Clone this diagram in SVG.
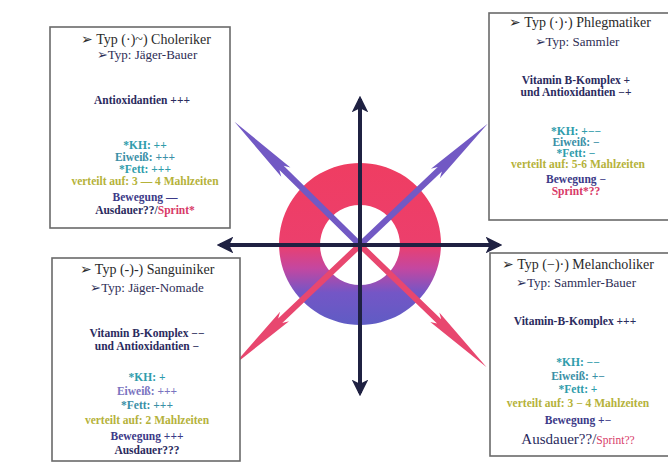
<svg xmlns="http://www.w3.org/2000/svg" width="668" height="473" viewBox="0 0 668 473">
<defs>
<linearGradient id="ringGrad" x1="0" y1="0" x2="0" y2="1">
<stop offset="0" stop-color="#ef3d62"/>
<stop offset="0.5" stop-color="#ec3f6c"/>
<stop offset="0.65" stop-color="#c447a0"/>
<stop offset="0.8" stop-color="#7456c6"/>
<stop offset="1" stop-color="#5f5cc4"/>
</linearGradient>
<marker id="axHead" viewBox="0 0 10 10" refX="8" refY="5" markerWidth="4.2" markerHeight="4.2" orient="auto" markerUnits="strokeWidth">
<path d="M0,0 L10,5 L0,10 L2.5,5 Z" fill="#1f2142"/>
</marker>
<polygon id="spear" points="0,-3 110,-3 104,-6.5 176,0 104,6.5 110,3 0,3"/>
<style>
.box{fill:#fff;stroke:#6a6a6a;stroke-width:1.6}
.t{font-family:"Liberation Serif","Times New Roman",serif;text-anchor:middle}
.h{font-size:14px;fill:#2a2a2a}
.h2{font-size:13px;fill:#2d2d55}
.b{font-size:11.5px;font-weight:bold}
.navy{fill:#2b2b5e}
.teal{fill:#2f9cab}
.teal2{fill:#3a8fa6}
.lav{fill:#7a74c0}
.yel{fill:#b5b23a}
.pur{fill:#3c3a88}
.red{fill:#d83a68}
.axis{stroke:#1f2142;stroke-width:4;fill:none;marker-end:url(#axHead)}
</style>
</defs>
<rect width="668" height="473" fill="#ffffff"/>

<g id="center-ring">
<path d="M360,163 a81,81 0 1,0 0.01,0 Z M360,205 a40,40 0 1,1 -0.01,0 Z" fill="url(#ringGrad)" fill-rule="evenodd"/>
</g>

<g id="connectors">
<g fill="#7259c4">
<use href="#spear" transform="translate(360,245) rotate(-135.5)"/>
<use href="#spear" transform="translate(360,245) rotate(-43.5)"/>
</g>
<g fill="#e8476f">
<use href="#spear" transform="translate(360,245) rotate(136.5)"/>
<use href="#spear" transform="translate(360,245) rotate(44)"/>
</g>
<line class="axis" x1="360" y1="245" x2="360" y2="99"/>
<line class="axis" x1="360" y1="245" x2="360" y2="393"/>
<line class="axis" x1="360" y1="245" x2="220" y2="245"/>
<line class="axis" x1="360" y1="245" x2="499" y2="245"/>
</g>

<g id="box-choleriker">
<rect class="box" x="50" y="27" width="180" height="201"/>
<text class="t h" x="146" y="44">➢ Typ (·)~) Choleriker</text>
<text class="t h2" x="147" y="59">➢Typ: Jäger-Bauer</text>
<text class="t b navy" x="142" y="104">Antioxidantien +++</text>
<text class="t b teal" x="145" y="149">*KH: ++</text>
<text class="t b teal2" x="145" y="161">Eiweiß: +++</text>
<text class="t b teal" x="145" y="173">*Fett: +++</text>
<text class="t b yel" x="145" y="185">verteilt auf: 3 — 4 Mahlzeiten</text>
<text class="t b pur" x="145" y="201">Bewegung —</text>
<text class="t b" x="145" y="214"><tspan class="navy">Ausdauer??/</tspan><tspan class="red">Sprint*</tspan></text>
</g>

<g id="box-phlegmatiker">
<rect class="box" x="489" y="13" width="183" height="207"/>
<text class="t h" x="580" y="27">➢ Typ (·)·) Phlegmatiker</text>
<text class="t h2" x="577" y="46">➢Typ: Sammler</text>
<text class="t b navy" x="576" y="84">Vitamin B-Komplex +</text>
<text class="t b navy" x="576" y="96">und Antioxidantien −+</text>
<text class="t b teal" x="576" y="135">*KH: +−−</text>
<text class="t b teal2" x="576" y="146">Eiweiß: −</text>
<text class="t b teal" x="576" y="157">*Fett: −</text>
<text class="t b yel" x="578" y="168">verteilt auf: 5-6 Mahlzeiten</text>
<text class="t b pur" x="576" y="183">Bewegung −</text>
<text class="t b red" x="576" y="195">Sprint*??</text>
</g>

<g id="box-sanguiniker">
<rect class="box" x="52" y="258" width="188" height="203"/>
<text class="t h" x="147" y="274">➢ Typ (-)-) Sanguiniker</text>
<text class="t h2" x="147" y="292">➢Typ: Jäger-Nomade</text>
<text class="t b navy" x="147" y="337">Vitamin B-Komplex −−</text>
<text class="t b navy" x="147" y="350">und Antioxidantien −</text>
<text class="t b teal" x="147" y="381">*KH: +</text>
<text class="t b lav" x="147" y="395">Eiweiß: +++</text>
<text class="t b teal2" x="147" y="409">*Fett: +++</text>
<text class="t b yel" x="147" y="424">verteilt auf: 2 Mahlzeiten</text>
<text class="t b pur" x="147" y="440">Bewegung +++</text>
<text class="t b navy" x="147" y="454">Ausdauer???</text>
</g>

<g id="box-melancholiker">
<rect class="box" x="490" y="253" width="182" height="203"/>
<text class="t h" x="578" y="269">➢ Typ (−)·) Melancholiker</text>
<text class="t h2" x="576" y="287">➢Typ: Sammler-Bauer</text>
<text class="t b navy" x="575" y="325">Vitamin-B-Komplex +++</text>
<text class="t b teal" x="578" y="366">*KH: −−</text>
<text class="t b teal2" x="578" y="380">Eiweiß: +−</text>
<text class="t b teal" x="578" y="393">*Fett: +</text>
<text class="t b yel" x="578" y="407">verteilt auf: 3 − 4 Mahlzeiten</text>
<text class="t b pur" x="578" y="424">Bewegung +−</text>
<text class="t" x="578" y="444" font-size="15"><tspan class="navy">Ausdauer??/</tspan><tspan class="red" font-size="11.5">Sprint??</tspan></text>
</g>
</svg>
